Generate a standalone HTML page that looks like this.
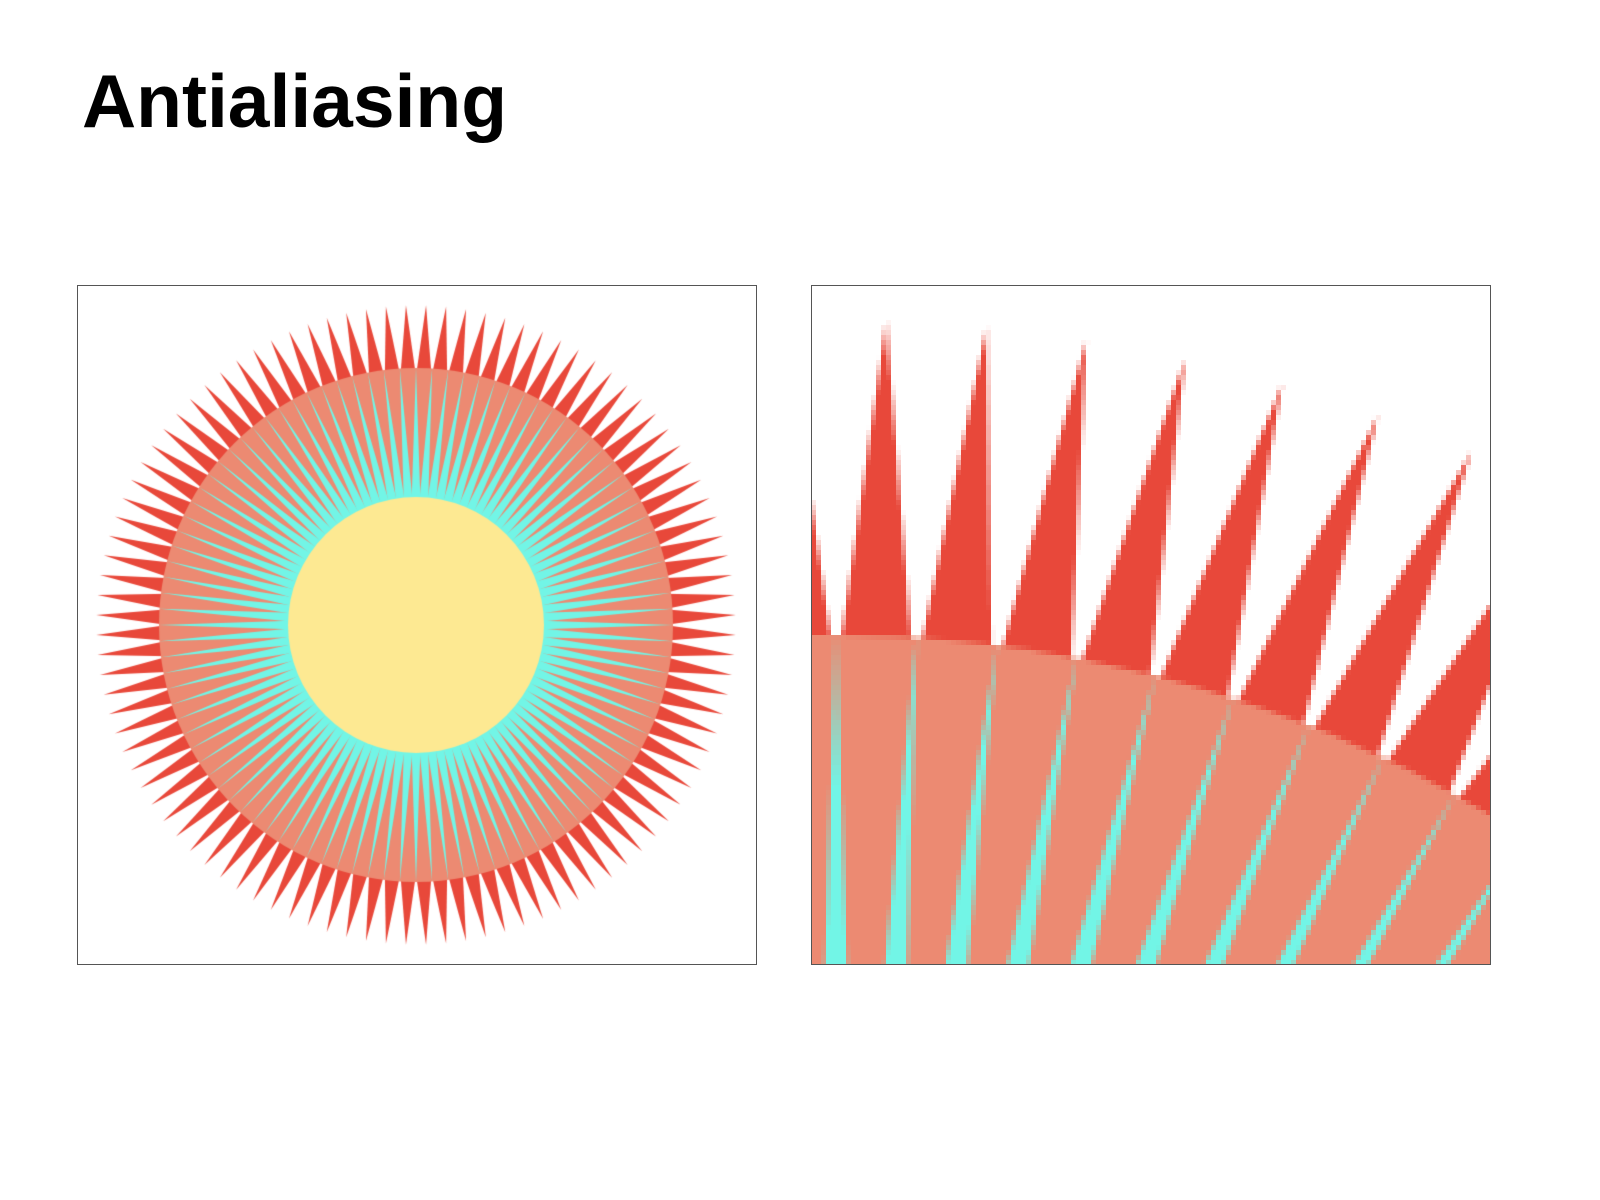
<!DOCTYPE html>
<html>
<head>
<meta charset="utf-8">
<style>
  html,body{margin:0;padding:0;background:#fff;}
  body{width:1600px;height:1200px;position:relative;overflow:hidden;font-family:"Liberation Sans",sans-serif;}
  #title{position:absolute;left:82px;top:64px;font-size:75px;font-weight:bold;color:#000;margin:0;letter-spacing:0px;line-height:1;}
  .panel{position:absolute;top:285px;width:680px;height:680px;border:1px solid #555;box-sizing:border-box;overflow:hidden;background:#fff;}
  #left-panel{left:77px;}
  #right-panel{left:811px;}
  #left-canvas{position:absolute;left:-1px;top:-1px;width:680px;height:680px;}
  #right-canvas{position:absolute;left:-1px;top:-1px;width:680px;height:680px;image-rendering:pixelated;}
</style>
</head>
<body>
<h1 id="title">Antialiasing</h1>
<div class="panel" id="left-panel">
  <canvas id="left-canvas" width="680" height="680"></canvas>
</div>
<div class="panel" id="right-panel">
  <canvas id="right-canvas" width="136" height="136"></canvas>
</div>
<script>
const spikeCounts = [100];
const radii = [320, 257, 128];          // red spike tip, salmon disk, yellow disk
const colors = ["#e8483a", "#ec8a72", "#72f5e6", "#fde992"];

function drawSun(ctx, cx, cy) {
  const n = spikeCounts[0];
  const step = 2 * Math.PI / n;
  const rOut = radii[0], rMid = radii[1], rIn = radii[2];
  ctx.fillStyle = colors[0];
  for (let k = 0; k < n; k++) {
    const a0 = k * step - Math.PI / 2;
    const a1 = a0 + step;
    const am = a0 + step / 2;
    ctx.beginPath();
    ctx.moveTo(cx + (rMid - 8) * Math.cos(a0), cy + (rMid - 8) * Math.sin(a0));
    ctx.lineTo(cx + rOut * Math.cos(am), cy + rOut * Math.sin(am));
    ctx.lineTo(cx + (rMid - 8) * Math.cos(a1), cy + (rMid - 8) * Math.sin(a1));
    ctx.closePath();
    ctx.fill();
  }
  ctx.fillStyle = colors[1];
  ctx.beginPath(); ctx.arc(cx, cy, rMid, 0, 2 * Math.PI); ctx.fill();
  ctx.fillStyle = colors[2];
  for (let k = 0; k < n; k++) {
    const am = k * step - Math.PI / 2;
    const a0 = am - step * 0.55, a1 = am + step * 0.55;
    ctx.beginPath();
    ctx.moveTo(cx + (rIn - 2) * Math.cos(a0), cy + (rIn - 2) * Math.sin(a0));
    ctx.lineTo(cx + rMid * Math.cos(am), cy + rMid * Math.sin(am));
    ctx.lineTo(cx + (rIn - 2) * Math.cos(a1), cy + (rIn - 2) * Math.sin(a1));
    ctx.closePath();
    ctx.fill();
  }
  ctx.fillStyle = colors[3];
  ctx.beginPath(); ctx.arc(cx, cy, rIn, 0, 2 * Math.PI); ctx.fill();
}

const lc = document.getElementById('left-canvas').getContext('2d');
drawSun(lc, 339, 340);

const rc = document.getElementById('right-canvas').getContext('2d');
rc.imageSmoothingEnabled = false;
drawSun(rc, 5, 327);
</script>
</body>
</html>
